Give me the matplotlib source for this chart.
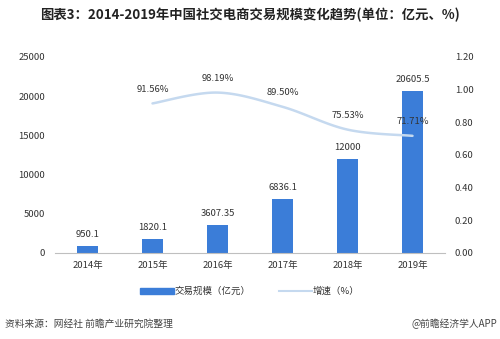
import matplotlib
matplotlib.use("Agg")
import matplotlib.pyplot as plt
import numpy as np
from matplotlib.lines import Line2D
from matplotlib.patches import Patch

plt.rcParams['font.family'] = ['Noto Sans CJK SC', 'DejaVu Sans']

years = ['2014年', '2015年', '2016年', '2017年', '2018年', '2019年']
scale = [950.1, 1820.1, 3607.35, 6836.1, 12000, 20605.5]
scale_labels = ['950.1', '1820.1', '3607.35', '6836.1', '12000', '20605.5']
growth = [0.9156, 0.9819, 0.8950, 0.7553, 0.7171]
growth_labels = ['91.56%', '98.19%', '89.50%', '75.53%', '71.71%']

bar_color = '#3B7DD8'
line_color = '#C5D9EF'
text_color = '#333333'

fig = plt.figure(figsize=(5.0, 3.39), dpi=100)
ax = fig.add_axes([0.11, 0.2537, 0.78, 0.5783])
x = np.arange(len(years))
ax.bar(x, scale, width=0.31, color=bar_color, zorder=2)
ax.set_xlim(-0.5, len(years) - 0.5)
ax.set_ylim(0, 25000)
ax.set_yticks(np.arange(0, 25001, 5000))
ax.set_xticks(x)
ax.set_xticklabels(years)
for s in ['top', 'right', 'left']:
    ax.spines[s].set_visible(False)
ax.spines['bottom'].set_color('#BFBFBF')
ax.tick_params(axis='both', length=0, labelsize=6.8, colors=text_color, pad=6)
ax.tick_params(axis='y', pad=7)
for xi, v, lab in zip(x, scale, scale_labels):
    ax.annotate(lab, (xi, v), xytext=(0, 5), textcoords='offset points',
                ha='center', va='bottom', fontsize=6.8, color=text_color)

ax2 = ax.twinx()
ax2.set_ylim(0, 1.2)
ax2.set_yticks(np.arange(0, 1.21, 0.2))
ax2.set_yticklabels([f'{v:.2f}' for v in np.arange(0, 1.21, 0.2)])
for s in ['top', 'right', 'left', 'bottom']:
    ax2.spines[s].set_visible(False)
ax2.tick_params(axis='y', length=0, labelsize=6.8, colors=text_color, pad=7)

gx = x[1:].astype(float)
gy = np.array(growth)
# smooth curve through points (Catmull-Rom style)
def catmull(px, py, n=30):
    xs, ys = [], []
    P = list(zip(px, py))
    P = [P[0]] + P + [P[-1]]
    for i in range(1, len(P) - 2):
        p0, p1, p2, p3 = [np.array(p) for p in P[i-1:i+3]]
        t = np.linspace(0, 1, n)[:, None]
        m1 = (p2 - p0) / 2
        m2 = (p3 - p1) / 2
        h00 = 2*t**3 - 3*t**2 + 1
        h10 = t**3 - 2*t**2 + t
        h01 = -2*t**3 + 3*t**2
        h11 = t**3 - t**2
        pts = h00*p1 + h10*m1 + h01*p2 + h11*m2
        xs.extend(pts[:, 0]); ys.extend(pts[:, 1])
    return np.array(xs), np.array(ys)
sx, sy = catmull(gx, gy)
ax2.plot(sx, sy, color=line_color, lw=1.8, solid_capstyle='round', zorder=3)
for xi, v, lab in zip(gx, gy, growth_labels):
    ax2.annotate(lab, (xi, v), xytext=(0, 7), textcoords='offset points',
                 ha='center', va='bottom', fontsize=6.8, color=text_color)

handles = [Patch(color=bar_color), Line2D([0], [0], color=line_color, lw=1.5)]
fig.legend(handles, ['交易规模（亿元）', '增速（%）'], loc='center',
           bbox_to_anchor=(0.5, 0.14), ncol=2, frameon=False, fontsize=6.8,
           handlelength=3.5, handleheight=0.7, columnspacing=3, handletextpad=0.1,
           labelcolor=text_color)

fig.text(0.5, 0.955, '图表3：2014-2019年中国社交电商交易规模变化趋势(单位：亿元、%)',
         ha='center', va='center', fontsize=9.6, fontweight='bold', color='#222222')
fig.text(0.01, 0.045, '资料来源：网经社 前瞻产业研究院整理', ha='left', va='center',
         fontsize=7, color='#444444')
fig.text(0.995, 0.045, '@前瞻经济学人APP', ha='right', va='center',
         fontsize=7, color='#444444')

fig.savefig('out.png', dpi=100)
